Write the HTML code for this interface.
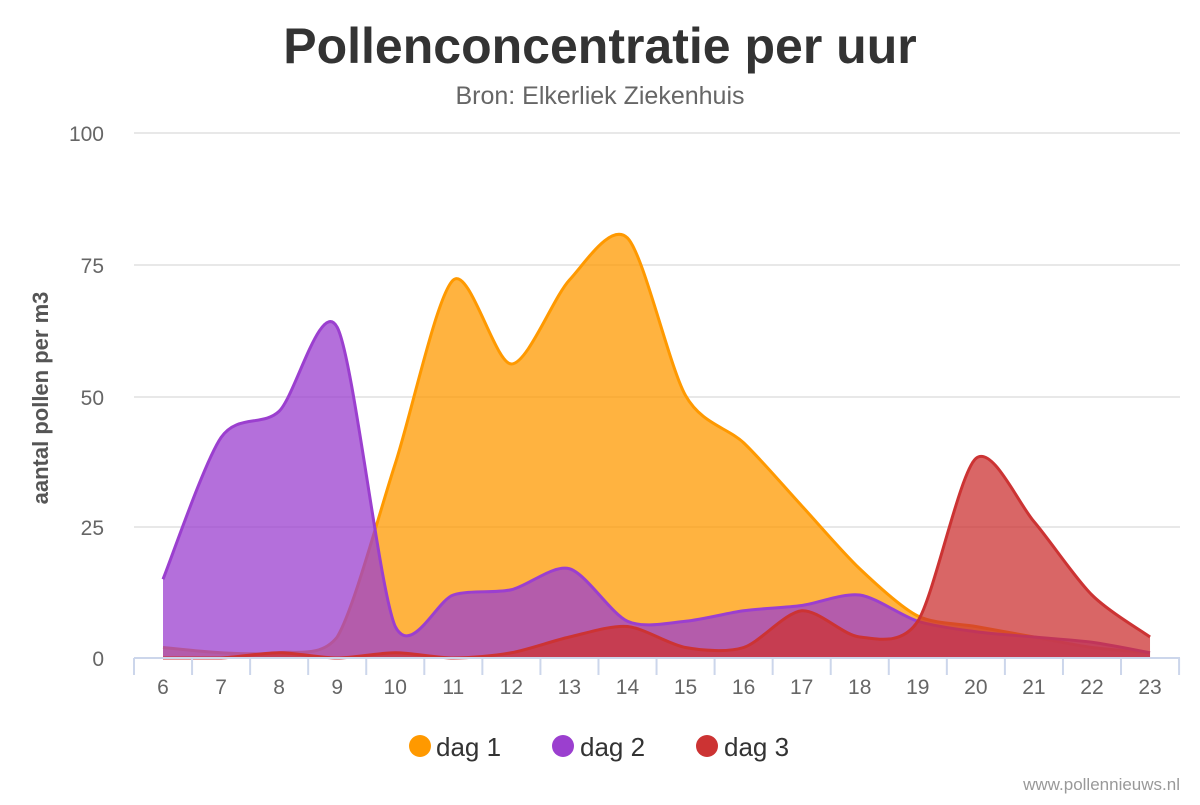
<!DOCTYPE html>
<html><head><meta charset="utf-8"><style>
body{margin:0;background:#fff;width:1200px;height:800px;overflow:hidden;font-family:"Liberation Sans",sans-serif}
</style></head><body>
<svg id="c" width="1200" height="800" xmlns="http://www.w3.org/2000/svg" font-family="Liberation Sans, sans-serif">
<text x="600" y="63" text-anchor="middle" font-size="50" font-weight="bold" fill="#333">Pollenconcentratie per uur</text>
<text x="600" y="104" text-anchor="middle" font-size="25" fill="#666">Bron: Elkerliek Ziekenhuis</text>
<g stroke="#e0e0e0" stroke-width="1.5">
<line x1="134" x2="1180" y1="133" y2="133"/><line x1="134" x2="1180" y1="265" y2="265"/>
<line x1="134" x2="1180" y1="397" y2="397"/><line x1="134" x2="1180" y1="527" y2="527"/>
</g>
<g font-size="21" fill="#666" text-anchor="end">
<text x="104" y="141">100</text><text x="104" y="273">75</text><text x="104" y="405">50</text><text x="104" y="535">25</text><text x="104" y="666">0</text>
</g>
<text transform="translate(48,398) rotate(-90)" text-anchor="middle" font-size="22" font-weight="bold" fill="#555">aantal pollen per m3</text>
<g id="series"></g>
<line x1="134" x2="1180" y1="658" y2="658" stroke="#ccd6eb" stroke-width="2"/>
<g id="ticks" stroke="#ccd6eb" stroke-width="2"></g>
<g id="xl" font-size="21" fill="#666" text-anchor="middle"></g>
<circle cx="420" cy="746" r="11" fill="#ff9900"/><text x="436" y="756" font-size="26" fill="#333">dag 1</text>
<circle cx="563" cy="746" r="11" fill="#9b3fcf"/><text x="580" y="756" font-size="26" fill="#333">dag 2</text>
<circle cx="707" cy="746" r="11" fill="#cc3333"/><text x="724" y="756" font-size="26" fill="#333">dag 3</text>
<text x="1180" y="790" text-anchor="end" font-size="17" fill="#999">www.pollennieuws.nl</text>
</svg>
<script>
var NS="http://www.w3.org/2000/svg";
function X(i){return 163+i*58.06}
function Y(v){return 658-v*5.25}
var d=[
{c:"#ff9900",f:"rgba(255,153,0,0.75)",v:[2,1,1,4,37,72,56,72,80,50,41,29,17,8,6,4,2,1]},
{c:"#9b3fcf",f:"rgba(155,63,207,0.75)",v:[15,42,47,63,6,12,13,17,7,7,9,10,12,7,5,4,3,1]},
{c:"#cc3333",f:"rgba(204,51,51,0.75)",v:[0,0,1,0,1,0,1,4,6,2,2,9,4,7,38,26,12,4]}];
var g=document.getElementById("series");
d.forEach(function(s){
 var p=s.v.map(function(v,i){return [X(i),Y(v)]});
 var path="M"+p[0][0]+","+p[0][1];
 for(var i=0;i<p.length-1;i++){
  var p0=p[i-1]||p[i],p1=p[i],p2=p[i+1],p3=p[i+2]||p[i+1];
  var t=0.14;
  var c1=[p1[0]+(p2[0]-p0[0])*t,p1[1]+(p2[1]-p0[1])*t];
  var c2=[p2[0]-(p3[0]-p1[0])*t,p2[1]-(p3[1]-p1[1])*t];
  c1[1]=Math.min(c1[1],658);c2[1]=Math.min(c2[1],658);
  path+=" C"+c1+" "+c2+" "+p2;
 }
 var a=document.createElementNS(NS,"path");
 a.setAttribute("d",path+" L"+p[p.length-1][0]+",658 L"+p[0][0]+",658Z");
 a.setAttribute("fill",s.f);g.appendChild(a);
 var l=document.createElementNS(NS,"path");
 l.setAttribute("d",path);l.setAttribute("fill","none");l.setAttribute("stroke",s.c);l.setAttribute("stroke-width","3");
 g.appendChild(l);
});
var tk=document.getElementById("ticks"),xl=document.getElementById("xl");
for(var i=0;i<=18;i++){var x=134+i*58.06;var t=document.createElementNS(NS,"line");
t.setAttribute("x1",x);t.setAttribute("x2",x);t.setAttribute("y1",658);t.setAttribute("y2",675);tk.appendChild(t);}
for(var i=0;i<18;i++){var t=document.createElementNS(NS,"text");t.setAttribute("x",X(i));t.setAttribute("y",694);t.textContent=6+i;xl.appendChild(t);}
</script>
</body></html>
